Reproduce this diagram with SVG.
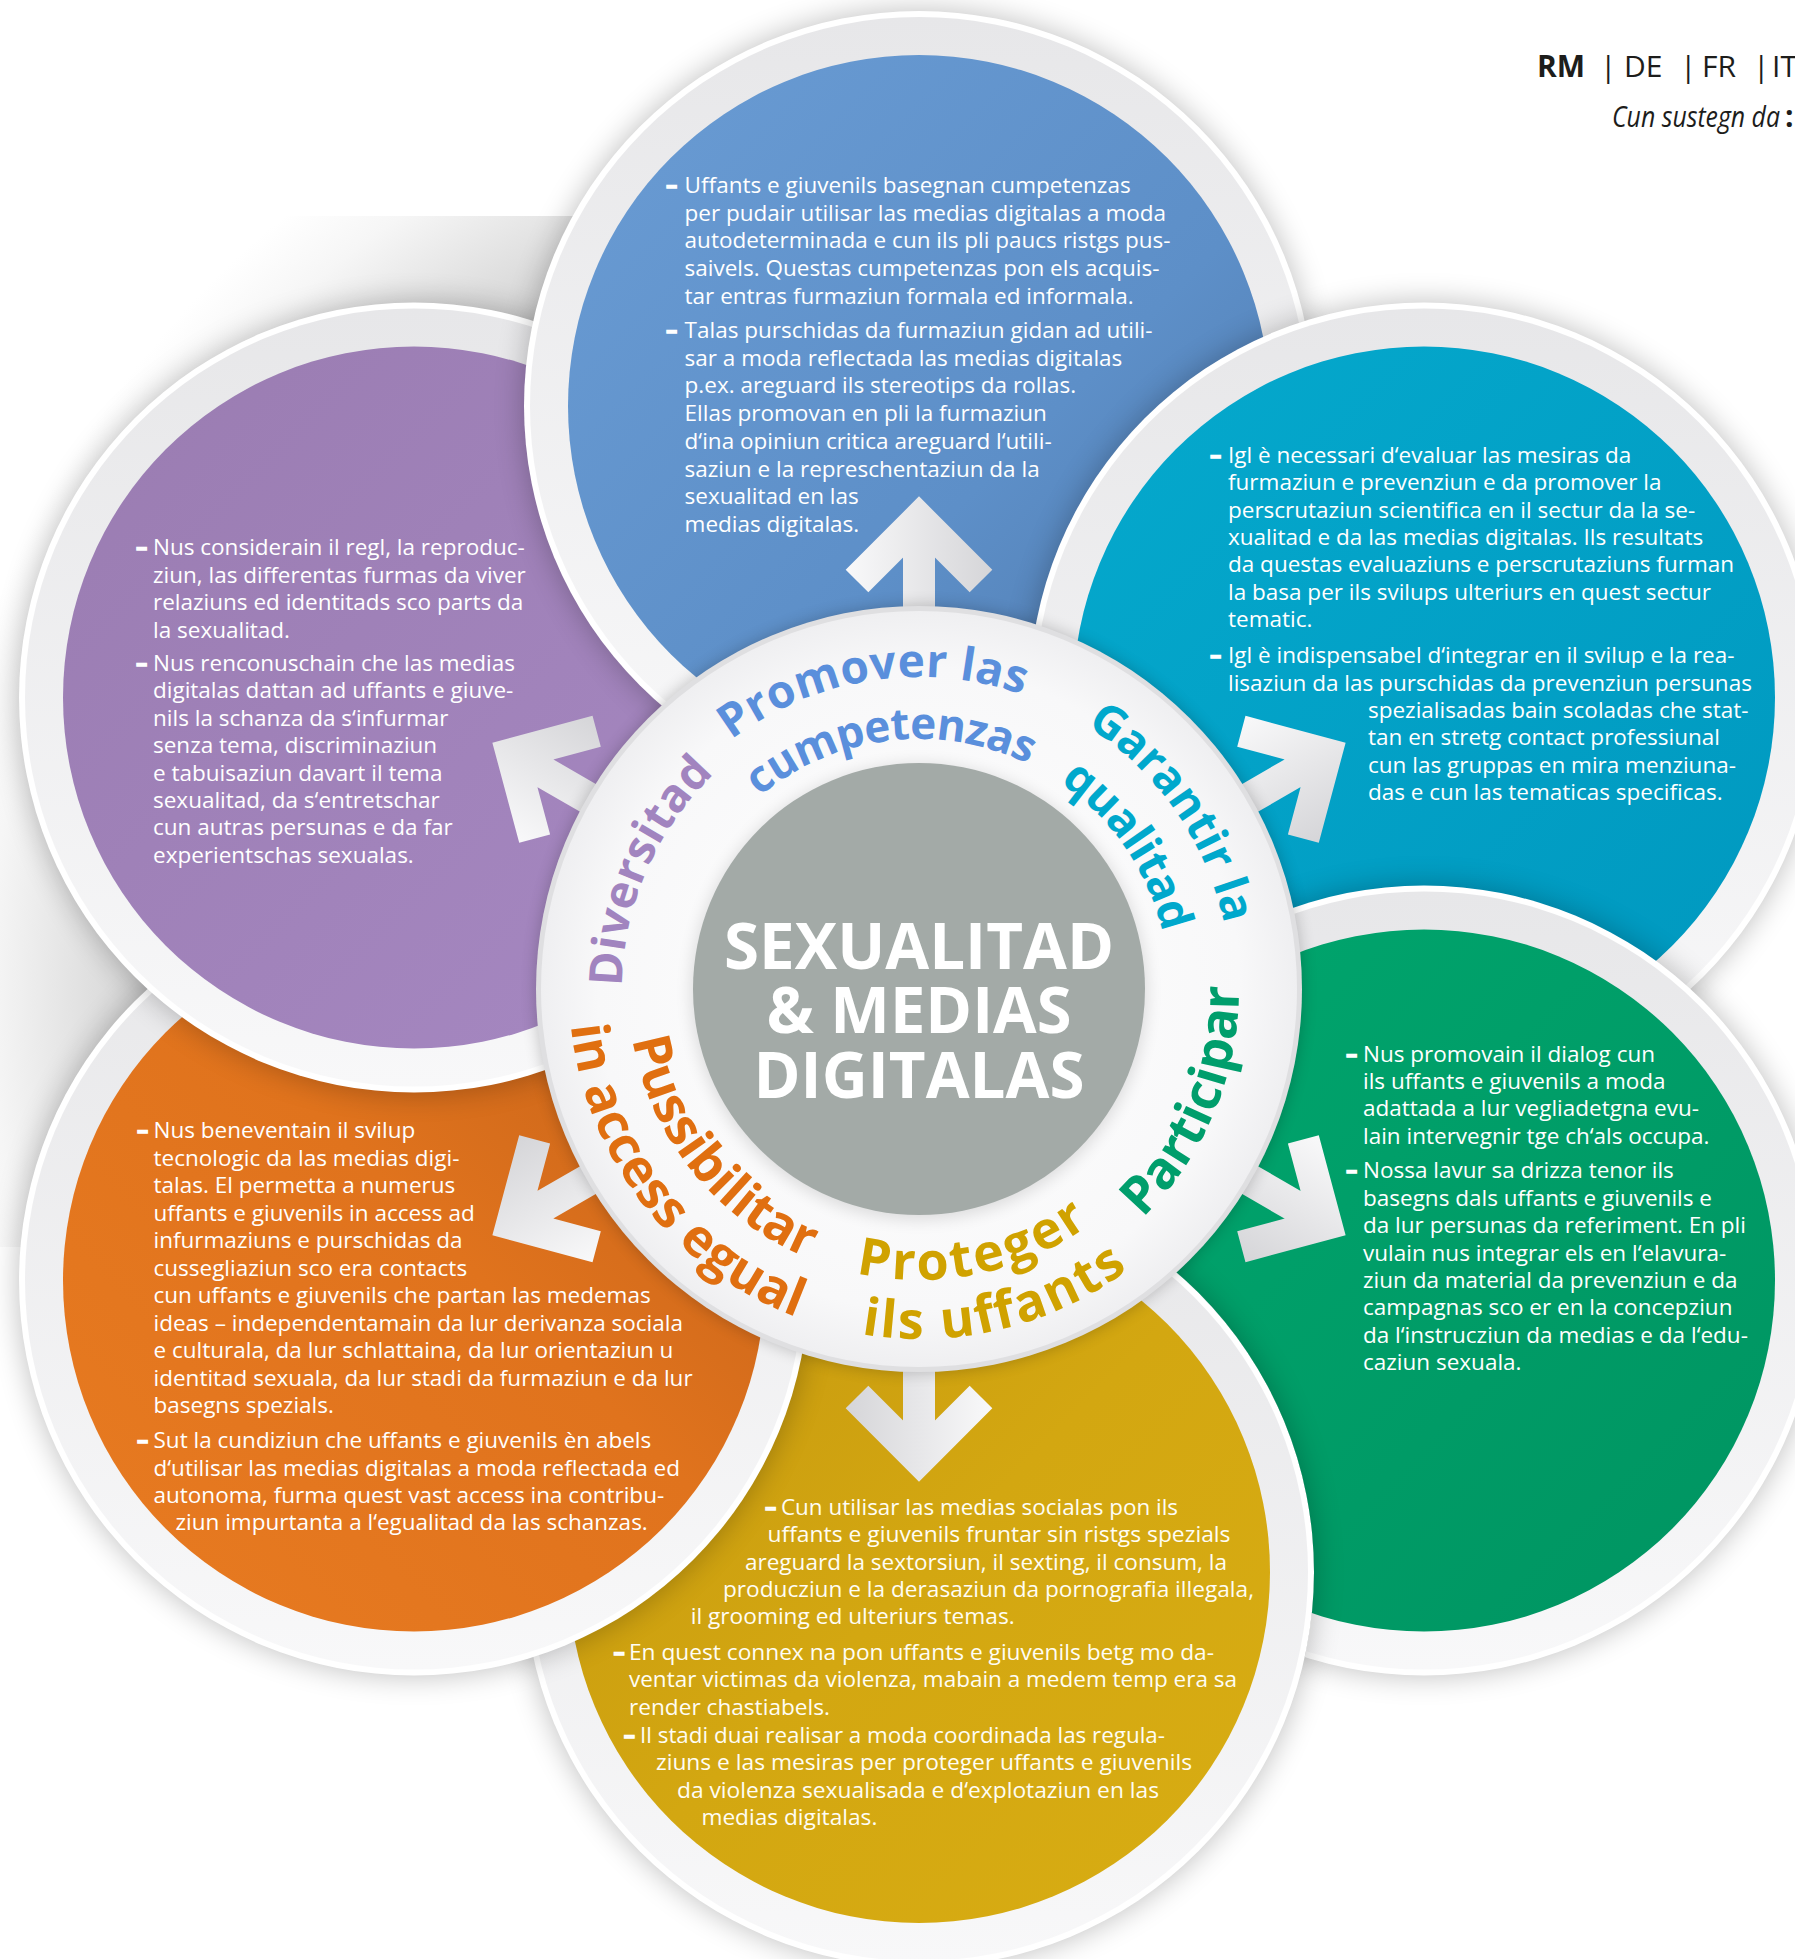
<svg xmlns="http://www.w3.org/2000/svg" width="1795" height="1959" viewBox="0 0 1795 1959">
<style>
.body{font-family:"Open Sans","Noto Sans",sans-serif;font-size:22.5px;fill:#ffffff}
.cond{font-family:"Open Sans","Noto Sans",sans-serif;font-size:22.5px;fill:#fffdf4}
.dash{font-weight:700;stroke:#ffffff;stroke-width:1.4}
.lbl{font-family:"Open Sans","Noto Sans",sans-serif;font-weight:700}
.ctr{font-family:"Open Sans","Noto Sans",sans-serif;font-weight:700;font-size:64px;fill:#ffffff;text-anchor:middle}
.hdr{font-family:"Open Sans","Noto Sans",sans-serif;font-size:30px;fill:#1d1d1b}
.shadow{fill:#000;opacity:.26;filter:url(#blur)}
.edge{fill:#ffffff}
.ring{fill:url(#gRing)}
</style>
<defs>
<filter id="blur" x="-20%" y="-20%" width="140%" height="140%"><feGaussianBlur stdDeviation="15"/></filter>
<filter id="blurS" x="-20%" y="-20%" width="140%" height="140%"><feGaussianBlur stdDeviation="8"/></filter>
<radialGradient id="bgShade" gradientUnits="userSpaceOnUse" cx="919" cy="989" r="1000"><stop offset=".6" stop-color="#b9b9b9"/><stop offset=".8" stop-color="#d9d9d9"/><stop offset=".93" stop-color="#f6f6f6"/><stop offset="1" stop-color="#ffffff"/></radialGradient>
<linearGradient id="gRing" x1="0" y1="0" x2="0" y2="1"><stop offset="0" stop-color="#e7e7e9"/><stop offset="1" stop-color="#f8f8f9"/></linearGradient>
<linearGradient id="gBlue" x1="0" y1="0" x2="1" y2="1"><stop offset="0" stop-color="#6a9cd4"/><stop offset=".6" stop-color="#5d8fc8"/><stop offset="1" stop-color="#4d76a8"/></linearGradient>
<linearGradient id="gPurple" x1="0" y1="0" x2="1" y2="1"><stop offset="0" stop-color="#9a7cb1"/><stop offset="1" stop-color="#a688c2"/></linearGradient>
<linearGradient id="gTeal" x1="0" y1="0" x2="1" y2="1"><stop offset="0" stop-color="#05a9cd"/><stop offset="1" stop-color="#0098bf"/></linearGradient>
<linearGradient id="gGreen" x1="0" y1="0" x2="1" y2="1"><stop offset="0" stop-color="#00a66e"/><stop offset="1" stop-color="#009461"/></linearGradient>
<linearGradient id="gGold" x1="0" y1="0" x2="1" y2="1"><stop offset="0" stop-color="#c4960f"/><stop offset=".5" stop-color="#d3a711"/><stop offset="1" stop-color="#d8ad13"/></linearGradient>
<linearGradient id="gOrange" x1="1" y1="0" x2="0" y2="1"><stop offset="0" stop-color="#bf5f19"/><stop offset=".45" stop-color="#e0731d"/><stop offset="1" stop-color="#e87b21"/></linearGradient>
<radialGradient id="gDisc" cx=".5" cy=".5" r=".5"><stop offset="0" stop-color="#ffffff"/><stop offset=".85" stop-color="#f8f8f9"/><stop offset="1" stop-color="#efeff1"/></radialGradient>
<linearGradient id="gArrow" gradientUnits="userSpaceOnUse" x1="-70" y1="0" x2="70" y2="0"><stop offset="0" stop-color="#f8f8f9"/><stop offset="1" stop-color="#d6d6d9"/></linearGradient>
<path id="arrowShape" d="M0,-372 L0,-470 M-62,-408 L0,-470 L62,-408" fill="none" stroke="url(#gArrow)" stroke-width="32" stroke-linejoin="miter" stroke-miterlimit="4"/>
<clipPath id="clipNoGold"><path clip-rule="evenodd" d="M0,0H1795V1959H0Z M1314,1572 A395,395 0 1 0 524,1572 A395,395 0 1 0 1314,1572Z"/></clipPath>
<clipPath id="clipGreenCircle"><circle cx="1424" cy="1280.5" r="395"/></clipPath>
<path id="pPromover" d="M731.2,739.8 A312,312 0 0 1 1022.6,694.7"/>
<path id="pCump" d="M759.6,796.3 A250,250 0 0 1 1028.6,764.3"/>
<path id="pGarantir" d="M1086.2,725.6 A312,312 0 0 1 1224.2,924.1"/>
<path id="pQualitad" d="M1059.9,782.5 A250,250 0 0 1 1162.6,932.8"/>
<path id="pDiversitad" d="M622.0,986.4 A297,297 0 0 1 714.2,773.9"/>
<path id="pParticipar" d="M1142.5,1218.0 A320,320 0 0 0 1239,986.2"/>
<path id="pProteger" d="M856.0,1273.1 A291,291 0 0 0 1089.2,1225.0"/>
<path id="pIls" d="M861.2,1334.2 A350,350 0 0 0 1128.2,1269.6"/>
<path id="pPuss" d="M632.4,1039.5 A291,291 0 0 0 807.6,1257.9"/>
<path id="pAccess" d="M570.9,1025.6 A350,350 0 0 0 797.0,1317.1"/>
</defs>

<rect width="1795" height="1959" fill="#ffffff"/>
<rect x="0" y="216" width="900" height="1031" fill="url(#bgShade)"/>

<g id="header">
<text class="hdr" x="1537" y="77" font-weight="700">RM</text>
<text class="hdr" x="1600" y="77">|</text>
<text class="hdr" x="1624" y="77">DE</text>
<text class="hdr" x="1680" y="77">|</text>
<text class="hdr" x="1702" y="77">FR</text>
<text class="hdr" x="1753" y="77">|</text>
<text class="hdr" x="1772" y="77">IT</text>
<text class="hdr" x="1612" y="127" font-size="27"><tspan font-style="italic" textLength="168" lengthAdjust="spacingAndGlyphs">Cun sustegn da</tspan><tspan x="1785" font-weight="700">:</tspan></text>
</g>

<g id="node-gold">
<circle class="shadow" cx="919" cy="1572" r="395"/>
<circle class="edge" cx="919" cy="1572" r="395"/>
<circle class="ring" cx="919" cy="1572" r="389"/>
<circle cx="919" cy="1572" r="351" fill="url(#gGold)"/>
<text class="cond dash" x="765" y="1515">–</text>
<text class="cond" x="781" y="1515" textLength="397" lengthAdjust="spacingAndGlyphs">Cun utilisar las medias socialas pon ils</text>
<text class="cond" x="767.5" y="1542.3" textLength="463" lengthAdjust="spacingAndGlyphs">uffants e giuvenils fruntar sin ristgs spezials</text>
<text class="cond" x="745" y="1569.6" textLength="482" lengthAdjust="spacingAndGlyphs">areguard la sextorsiun, il sexting, il consum, la</text>
<text class="cond" x="723" y="1596.9" textLength="531" lengthAdjust="spacingAndGlyphs">producziun e la derasaziun da pornografia illegala,</text>
<text class="cond" x="690.7" y="1624.2" textLength="324" lengthAdjust="spacingAndGlyphs">il grooming ed ulteriurs temas.</text>
<text class="cond dash" x="613.5" y="1660">–</text>
<text class="cond" x="629" y="1660" textLength="585" lengthAdjust="spacingAndGlyphs">En quest connex na pon uffants e giuvenils betg mo da-</text>
<text class="cond" x="629" y="1687.3" textLength="608" lengthAdjust="spacingAndGlyphs">ventar victimas da violenza, mabain a medem temp era sa</text>
<text class="cond" x="629" y="1714.6" textLength="201" lengthAdjust="spacingAndGlyphs">render chastiabels.</text>
<text class="cond dash" x="623.7" y="1743">–</text>
<text class="cond" x="640" y="1743" textLength="525" lengthAdjust="spacingAndGlyphs">Il stadi duai realisar a moda coordinada las regula-</text>
<text class="cond" x="656" y="1770.3" textLength="536" lengthAdjust="spacingAndGlyphs">ziuns e las mesiras per proteger uffants e giuvenils</text>
<text class="cond" x="677" y="1797.6" textLength="482" lengthAdjust="spacingAndGlyphs">da violenza sexualisada e d‘explotaziun en las</text>
<text class="cond" x="701.4" y="1824.9" textLength="176" lengthAdjust="spacingAndGlyphs">medias digitalas.</text>
</g>

<g id="node-orange">
<circle class="shadow" cx="414" cy="1280.5" r="395"/>
<circle class="edge" cx="414" cy="1280.5" r="395"/>
<circle class="ring" cx="414" cy="1280.5" r="389"/>
<circle cx="414" cy="1280.5" r="351" fill="url(#gOrange)"/>
<text class="body dash" x="137" y="1138.3">–</text>
<text class="body" x="153.5" y="1138.3">Nus beneventain il svilup</text>
<text class="body" x="153.5" y="1165.8">tecnologic da las medias digi-</text>
<text class="body" x="153.5" y="1193.3">talas. El permetta a numerus</text>
<text class="body" x="153.5" y="1220.8">uffants e giuvenils in access ad</text>
<text class="body" x="153.5" y="1248.3">infurmaziuns e purschidas da</text>
<text class="body" x="153.5" y="1275.8">cussegliaziun sco era contacts</text>
<text class="body" x="153.5" y="1303.3">cun uffants e giuvenils che partan las medemas</text>
<text class="body" x="153.5" y="1330.8">ideas – independentamain da lur derivanza sociala</text>
<text class="body" x="153.5" y="1358.3">e culturala, da lur schlattaina, da lur orientaziun u</text>
<text class="body" x="153.5" y="1385.8">identitad sexuala, da lur stadi da furmaziun e da lur</text>
<text class="body" x="153.5" y="1413.3">basegns spezials.</text>
<text class="body dash" x="137" y="1448.3">–</text>
<text class="body" x="153.5" y="1448.3">Sut la cundiziun che uffants e giuvenils èn abels</text>
<text class="body" x="153.5" y="1475.6">d‘utilisar las medias digitalas a moda reflectada ed</text>
<text class="body" x="153.5" y="1502.9">autonoma, furma quest vast access ina contribu-</text>
<text class="body" x="175.5" y="1530.2">ziun impurtanta a l‘egualitad da las schanzas.</text>
</g>

<g id="node-purple">
<circle class="shadow" cx="414" cy="697.5" r="395"/>
<circle class="edge" cx="414" cy="697.5" r="395"/>
<circle class="ring" cx="414" cy="697.5" r="389"/>
<circle cx="414" cy="697.5" r="351" fill="url(#gPurple)"/>
<text class="body dash" x="136" y="555">–</text>
<text class="body" x="153" y="555">Nus considerain il regl, la reproduc-</text>
<text class="body" x="153" y="582.5">ziun, las differentas furmas da viver</text>
<text class="body" x="153" y="610">relaziuns ed identitads sco parts da</text>
<text class="body" x="153" y="637.5">la sexualitad.</text>
<text class="body dash" x="136" y="671">–</text>
<text class="body" x="153" y="671">Nus renconuschain che las medias</text>
<text class="body" x="153" y="698.4">digitalas dattan ad uffants e giuve-</text>
<text class="body" x="153" y="725.8">nils la schanza da s‘infurmar</text>
<text class="body" x="153" y="753.2">senza tema, discriminaziun</text>
<text class="body" x="153" y="780.6">e tabuisaziun davart il tema</text>
<text class="body" x="153" y="808">sexualitad, da s‘entretschar</text>
<text class="body" x="153" y="835.4">cun autras persunas e da far</text>
<text class="body" x="153" y="862.8">experientschas sexualas.</text>
</g>

<g id="node-blue">
<circle class="shadow" cx="919" cy="406" r="395"/>
<circle class="edge" cx="919" cy="406" r="395"/>
<circle class="ring" cx="919" cy="406" r="389"/>
<circle cx="919" cy="406" r="351" fill="url(#gBlue)"/>
<text class="body dash" x="666" y="193">–</text>
<text class="body" x="684.6" y="193">Uffants e giuvenils basegnan cumpetenzas</text>
<text class="body" x="684.6" y="220.7">per pudair utilisar las medias digitalas a moda</text>
<text class="body" x="684.6" y="248.4">autodeterminada e cun ils pli paucs ristgs pus-</text>
<text class="body" x="684.6" y="276.1">saivels. Questas cumpetenzas pon els acquis-</text>
<text class="body" x="684.6" y="303.8">tar entras furmaziun formala ed informala.</text>
<text class="body dash" x="666" y="338">–</text>
<text class="body" x="684.6" y="338">Talas purschidas da furmaziun gidan ad utili-</text>
<text class="body" x="684.6" y="365.7">sar a moda reflectada las medias digitalas</text>
<text class="body" x="684.6" y="393.4">p.ex. areguard ils stereotips da rollas.</text>
<text class="body" x="684.6" y="421.1">Ellas promovan en pli la furmaziun</text>
<text class="body" x="684.6" y="448.8">d‘ina opiniun critica areguard l‘utili-</text>
<text class="body" x="684.6" y="476.5">saziun e la represchentaziun da la</text>
<text class="body" x="684.6" y="504.2">sexualitad en las</text>
<text class="body" x="684.6" y="531.9">medias digitalas.</text>
</g>

<g id="node-teal">
<circle class="shadow" cx="1424" cy="697.5" r="395"/>
<circle class="edge" cx="1424" cy="697.5" r="395"/>
<circle class="ring" cx="1424" cy="697.5" r="389"/>
<circle cx="1424" cy="697.5" r="351" fill="url(#gTeal)"/>
<text class="body dash" x="1210" y="463">–</text>
<text class="body" x="1228" y="463">Igl è necessari d‘evaluar las mesiras da</text>
<text class="body" x="1228" y="490.3">furmaziun e prevenziun e da promover la</text>
<text class="body" x="1228" y="517.6">perscrutaziun scientifica en il sectur da la se-</text>
<text class="body" x="1228" y="544.9">xualitad e da las medias digitalas. Ils resultats</text>
<text class="body" x="1228" y="572.2">da questas evaluaziuns e perscrutaziuns furman</text>
<text class="body" x="1228" y="599.5">la basa per ils svilups ulteriurs en quest sectur</text>
<text class="body" x="1228" y="626.8">tematic.</text>
<text class="body dash" x="1210" y="663.3">–</text>
<text class="body" x="1228" y="663.3">Igl è indispensabel d‘integrar en il svilup e la rea-</text>
<text class="body" x="1228" y="690.6">lisaziun da las purschidas da prevenziun persunas</text>
<text class="body" x="1368" y="717.9">spezialisadas bain scoladas che stat-</text>
<text class="body" x="1368" y="745.2">tan en stretg contact professiunal</text>
<text class="body" x="1368" y="772.5">cun las gruppas en mira menziuna-</text>
<text class="body" x="1368" y="799.8">das e cun las tematicas specificas.</text>
</g>

<g id="node-green" clip-path="url(#clipNoGold)">
<circle class="shadow" cx="1424" cy="1280.5" r="395"/>
<circle class="edge" cx="1424" cy="1280.5" r="395"/>
<circle class="ring" cx="1424" cy="1280.5" r="389"/>
<circle cx="1424" cy="1280.5" r="351" fill="url(#gGreen)"/>
<text class="body dash" x="1346" y="1061.7">–</text>
<text class="body" x="1363" y="1061.7">Nus promovain il dialog cun</text>
<text class="body" x="1363" y="1089">ils uffants e giuvenils a moda</text>
<text class="body" x="1363" y="1116.4">adattada a lur vegliadetgna evu-</text>
<text class="body" x="1363" y="1143.8">lain intervegnir tge ch‘als occupa.</text>
<text class="body dash" x="1346" y="1178.3">–</text>
<text class="body" x="1363" y="1178.3">Nossa lavur sa drizza tenor ils</text>
<text class="body" x="1363" y="1205.7">basegns dals uffants e giuvenils e</text>
<text class="body" x="1363" y="1233.1">da lur persunas da referiment. En pli</text>
<text class="body" x="1363" y="1260.5">vulain nus integrar els en l‘elavura-</text>
<text class="body" x="1363" y="1287.9">ziun da material da prevenziun e da</text>
<text class="body" x="1363" y="1315.3">campagnas sco er en la concepziun</text>
<text class="body" x="1363" y="1342.7">da l‘instrucziun da medias e da l‘edu-</text>
<text class="body" x="1363" y="1370">caziun sexuala.</text>
<circle class="shadow" cx="919" cy="1572" r="395" clip-path="url(#clipGreenCircle)"/>
</g>

<g id="connectors">
<use href="#arrowShape" transform="translate(919,989) rotate(0)"/>
<use href="#arrowShape" transform="translate(919,989) rotate(60)"/>
<use href="#arrowShape" transform="translate(919,989) rotate(120)"/>
<use href="#arrowShape" transform="translate(919,989) rotate(180)"/>
<use href="#arrowShape" transform="translate(919,989) rotate(240)"/>
<use href="#arrowShape" transform="translate(919,989) rotate(300)"/>
</g>

<g id="node-center">
<circle cx="919" cy="989" r="383" fill="#000" opacity=".22" filter="url(#blurS)"/>
<circle cx="919" cy="989" r="383" fill="#dfdfe1"/>
<circle cx="919" cy="989" r="378" fill="url(#gDisc)"/>
<circle cx="919" cy="992" r="228" fill="#000" opacity=".12" filter="url(#blurS)"/>
<circle cx="919" cy="989" r="226" fill="#a3aaa7"/>
<text class="ctr" x="919" y="969" textLength="390" lengthAdjust="spacingAndGlyphs">SEXUALITAD</text>
<text class="ctr" x="919" y="1033" textLength="305" lengthAdjust="spacingAndGlyphs">&amp; MEDIAS</text>
<text class="ctr" x="919" y="1098" textLength="331" lengthAdjust="spacingAndGlyphs">DIGITALAS</text>
</g>

<g id="labels">
<text class="lbl" font-size="46" fill="#5a8fdc"><textPath href="#pPromover" textLength="307" lengthAdjust="spacing">Promover las</textPath></text>
<text class="lbl" font-size="44" fill="#5a8fdc"><textPath href="#pCump" textLength="286" lengthAdjust="spacing">cumpetenzas</textPath></text>
<text class="lbl" font-size="46" fill="#00a8cc"><textPath href="#pGarantir" textLength="248" lengthAdjust="spacing">Garantir la</textPath></text>
<text class="lbl" font-size="46" fill="#00a8cc"><textPath href="#pQualitad" textLength="186" lengthAdjust="spacing">qualitad</textPath></text>
<text class="lbl" font-size="46" fill="#a184bf"><textPath href="#pDiversitad" textLength="238" lengthAdjust="spacing">Diversitad</textPath></text>
<text class="lbl" font-size="52" fill="#009e6c"><textPath href="#pParticipar" textLength="258" lengthAdjust="spacing">Participar</textPath></text>
<text class="lbl" font-size="52" fill="#d0a200"><textPath href="#pProteger" textLength="245" lengthAdjust="spacing">Proteger</textPath></text>
<text class="lbl" font-size="52" fill="#d0a200"><textPath href="#pIls" textLength="282" lengthAdjust="spacing">ils uffants</textPath></text>
<text class="lbl" font-size="52" fill="#e06f10"><textPath href="#pPuss" textLength="292" lengthAdjust="spacing">Pussibilitar</textPath></text>
<text class="lbl" font-size="52" fill="#e06f10"><textPath href="#pAccess" textLength="388" lengthAdjust="spacing">in access egual</textPath></text>
</g>
</svg>
